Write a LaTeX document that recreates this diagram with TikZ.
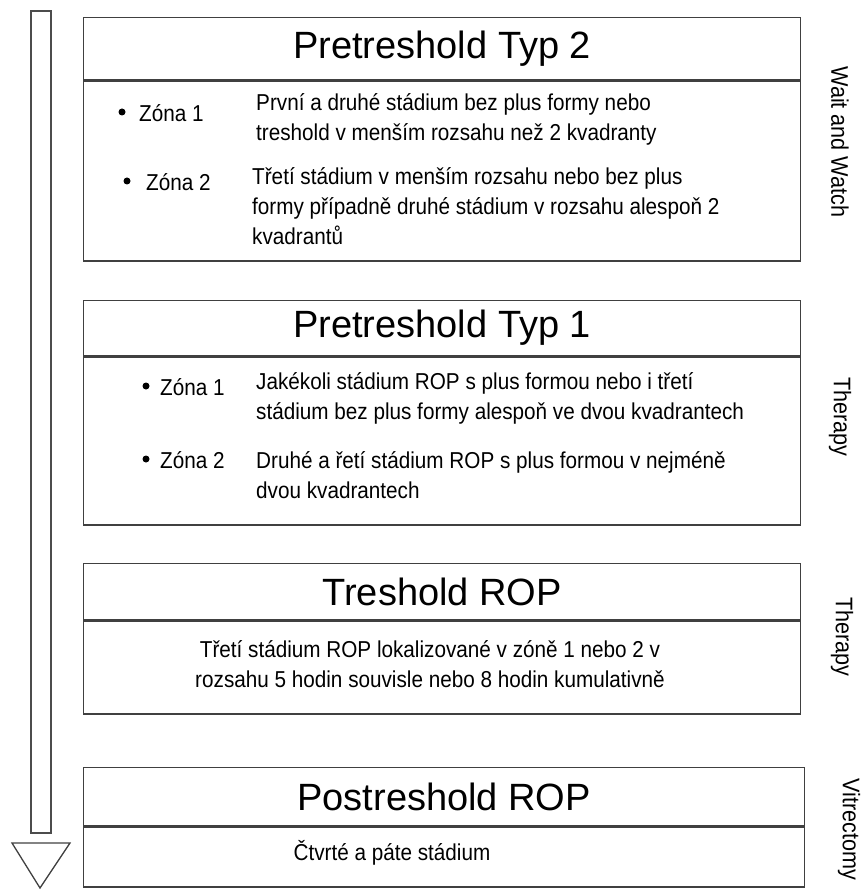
\documentclass[tikz,border=0pt]{standalone}
\usepackage{fontspec}
\setmainfont{Liberation Sans}
\newfontfamily\narrowsans{Liberation Sans}[FakeStretch=0.9]
\usepackage{tikz}

\begin{document}
\begin{tikzpicture}[x=1pt,y=-1pt,
  frame/.style={draw=black!75,line width=1.3pt,inner sep=0pt,anchor=north west,minimum width=717pt},
  title/.style={frame,font=\fontsize{38}{40}\selectfont},
  body/.style={align=left,anchor=west,inner sep=0pt,font=\narrowsans\fontsize{23}{30}\selectfont},
  zone/.style={anchor=west,inner sep=0pt,font=\narrowsans\fontsize{23}{25}\selectfont},
  dot/.style={circle,fill=black,inner sep=0pt,minimum size=7pt},
  side/.style={rotate=-90,inner sep=0pt,font=\narrowsans\fontsize{24}{25}\selectfont}]
\useasboundingbox (0,0) rectangle (862,890);
\draw[black!70,line width=1.3pt] (31,11) rectangle (51,833);
\draw[black!75,line width=1.3pt] (12,843)--(70,843)--(40,888)--cycle;

\node[title,minimum height=62pt] (t2) at (83,17) {Pretreshold Typ 2};
\node[frame,minimum height=180pt] (b2) at (t2.south west) {};
\node[dot] (d21) at (122,112) {};
\node[zone] (z21) at (139,113) {Zóna 1};
\node[body] (p21) at (256,119) {První a druhé stádium bez plus formy nebo\\treshold v menším rozsahu než 2 kvadranty};
\node[dot] (d22) at (127,181) {};
\node[zone] (z22) at (146,182) {Zóna 2};
\node[body] (p22) at (252,206) {Třetí stádium v menším rozsahu nebo bez plus\\formy případně druhé stádium v rozsahu alespoň 2\\kvadrantů};

\node[title,minimum height=55pt] (t1) at (83,300) {Pretreshold Typ 1};
\node[frame,minimum height=168pt] (b1) at (t1.south west) {};
\node[dot] (d11) at (146,386) {};
\node[zone] (z11) at (160,387) {Zóna 1};
\node[body] (p11) at (256,398) {Jakékoli stádium ROP s plus formou nebo i třetí\\stádium bez plus formy alespoň ve dvou kvadrantech};
\node[dot] (d12) at (146,459) {};
\node[zone] (z12) at (160,460) {Zóna 2};
\node[body] (p12) at (256,475) {Druhé a řetí stádium ROP s plus formou v nejméně\\dvou kvadrantech};

\node[title,minimum height=56pt] (tr) at (83,563) {Treshold ROP};
\node[frame,minimum height=93pt] (trb) at (tr.south west) {};
\node[body,align=center,anchor=center] (trt) at (430,664) {Třetí stádium ROP lokalizované v zóně 1 nebo 2 v\\rozsahu 5 hodin souvisle nebo 8 hodin kumulativně};

\node[title,minimum height=58pt,minimum width=721pt] (po) at (83,767) {Postreshold ROP};
\node[frame,minimum height=60pt,minimum width=721pt] (pob) at (po.south west) {};
\node[body,anchor=center] (pot) at (392,853) {Čtvrté a páte stádium};

\node[side] (ww) at (840,142) {Wait and Watch};
\node[side] (th1) at (840,417) {Therapy};
\node[side] (th2) at (842,637) {Therapy};
\node[side] (vi) at (849,829) {Vitrectomy};
\end{tikzpicture}
\end{document}
